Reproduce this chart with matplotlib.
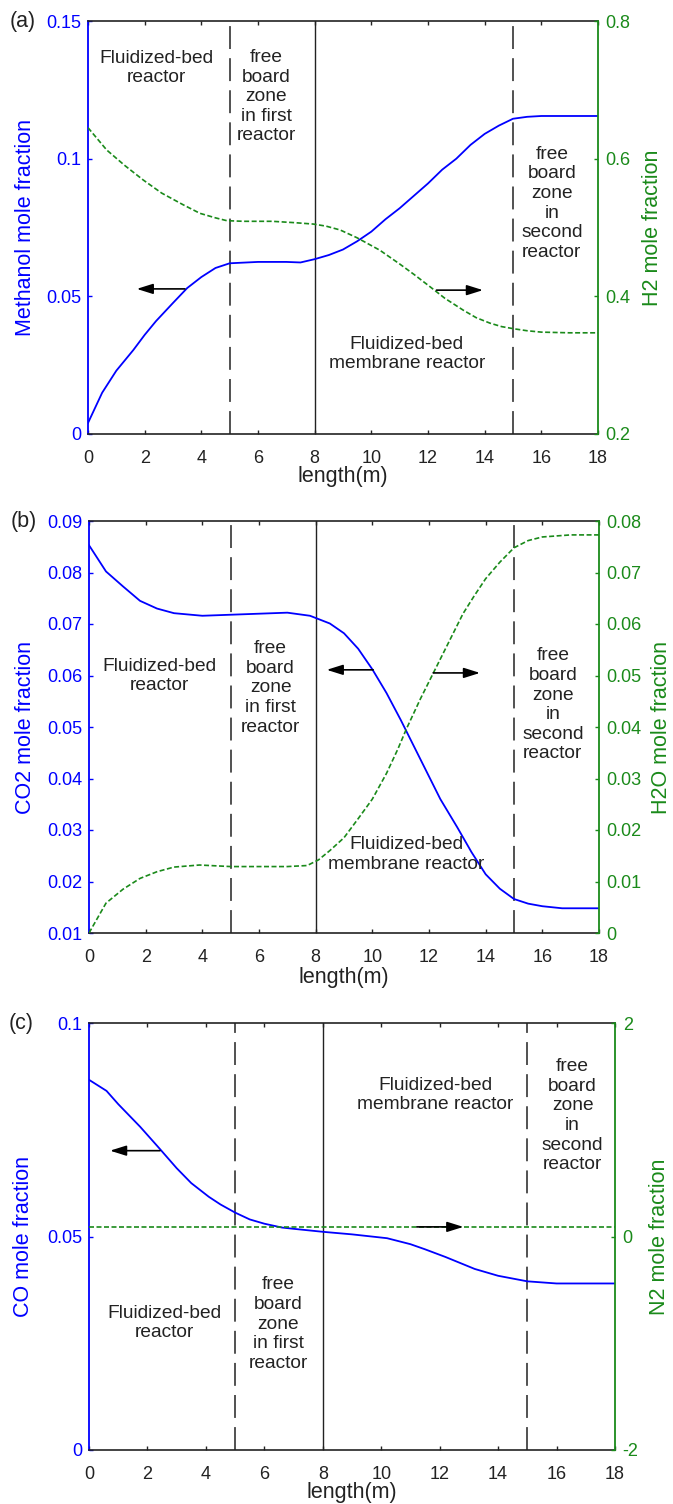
import numpy as np
import matplotlib
matplotlib.use('Agg')
import matplotlib.pyplot as plt

plt.rcParams['font.family'] = ['Liberation Sans', 'DejaVu Sans']
plt.rcParams['font.size'] = 13

# ---- panel (a): methanol / H2 ----
x_meoh = [0, 0.5, 1, 1.6, 2, 2.4, 3, 3.5, 4, 4.5, 5, 6, 7, 7.5, 8, 8.5, 9, 9.5,
          10, 10.5, 11, 11.5, 12, 12.5, 13, 13.5, 14, 14.5, 15, 15.5, 16, 17, 18]
meoh = [0.004, 0.015, 0.023, 0.0305, 0.036, 0.041, 0.0476, 0.0530, 0.0570, 0.0603,
        0.062, 0.0625, 0.0625, 0.0623, 0.0635, 0.065, 0.067, 0.070, 0.0735, 0.078,
        0.082, 0.0865, 0.091, 0.096, 0.100, 0.105, 0.109, 0.112, 0.1145, 0.1152,
        0.1155, 0.1155, 0.1155]
x_h2 = [0, 0.66, 1.3, 1.95, 2.6, 3.36, 3.95, 4.5, 4.9, 5.5, 6.5, 7.3, 7.95, 8.4,
        8.9, 9.5, 10.3, 11, 11.5, 12.07, 12.6, 13.24, 13.7, 14.19, 14.6, 15.07,
        15.5, 16, 17, 18]
h2 = [0.645, 0.6126, 0.59, 0.569, 0.55, 0.533, 0.5206, 0.514, 0.5099, 0.509, 0.509,
      0.507, 0.505, 0.502, 0.4964, 0.485, 0.467, 0.447, 0.432, 0.414, 0.397, 0.380,
      0.369, 0.361, 0.356, 0.3526, 0.350, 0.348, 0.347, 0.347]

# ---- panel (b): CO2 / H2O ----
x_co2 = [0, 0.6, 1.2, 1.8, 2.4, 3, 4, 5, 6, 7, 7.8, 8.5, 9, 9.5, 10, 10.5, 11,
         11.5, 12, 12.4, 13, 13.5, 14, 14.5, 15, 15.5, 16, 16.7, 17, 18]
co2 = [0.0853, 0.0802, 0.0773, 0.0745, 0.0730, 0.0721, 0.0716, 0.0718, 0.0720,
       0.0722, 0.0716, 0.0701, 0.0682, 0.0652, 0.0612, 0.0566, 0.0514, 0.0459,
       0.0404, 0.0360, 0.0305, 0.0257, 0.0214, 0.0186, 0.0166, 0.0157, 0.0152,
       0.0148, 0.0148, 0.0148]
x_h2o = [0, 0.6, 1.2, 1.8, 2.4, 3, 3.9, 5, 6, 7, 7.7, 8.1, 8.5, 9, 9.5, 10, 10.5,
         10.9, 11.2, 11.7, 12.2, 12.7, 13.2, 13.6, 14, 14.5, 15, 15.5, 16, 17, 18]
h2o = [0.0, 0.0058, 0.0085, 0.0106, 0.0119, 0.0128, 0.0132, 0.0129, 0.0129, 0.0129,
       0.0131, 0.0142, 0.016, 0.0185, 0.0222, 0.026, 0.031, 0.0357, 0.0396, 0.0455,
       0.051, 0.0565, 0.062, 0.0655, 0.0688, 0.072, 0.0748, 0.0762, 0.0769, 0.0773,
       0.0773]

# ---- panel (c): CO / N2 ----
x_co = [0, 0.6, 1, 1.75, 2.4, 3, 3.5, 4.1, 4.5, 5, 5.5, 6, 6.6, 7, 8, 9, 10.2, 11,
        11.5, 12.2, 12.7, 13.2, 14, 15, 16, 17, 18]
co = [0.0867, 0.0841, 0.081, 0.0757, 0.0707, 0.066, 0.0625, 0.0593, 0.0575, 0.0556,
      0.054, 0.053, 0.0521, 0.0518, 0.0511, 0.0505, 0.0496, 0.0482, 0.047, 0.0452,
      0.0438, 0.0424, 0.0408, 0.0395, 0.039, 0.039, 0.039]
x_n2 = [0, 18]
n2 = [0.09, 0.09]

xticks = [0, 2, 4, 6, 8, 10, 12, 14, 16, 18]

BLUE = '#0000ff'
GREEN = '#1a8a1a'
DARK = '#222222'
LABEL_FS = 15.5

W, H = 673, 1504
fig = plt.figure(figsize=(W / 100, H / 100), dpi=100)


def make_axes(px_left, px_right, px_top, px_bottom):
    return fig.add_axes([px_left / W, (H - px_bottom) / H,
                         (px_right - px_left) / W, (px_bottom - px_top) / H])


def setup(ax, ax2, lticks, llabels, rticks, rlabels, lname, rname,
          lx, rx, xy, letter):
    ax.set_xlim(0, 18)
    ax.set_xticks(xticks)
    ax.set_xticklabels([str(t) for t in xticks])
    ax.set_ylim(lticks[0], lticks[-1])
    ax.set_yticks(lticks)
    ax.set_yticklabels(llabels)
    ax2.set_ylim(rticks[0], rticks[-1])
    ax2.set_yticks(rticks)
    ax2.set_yticklabels(rlabels)

    ax.tick_params(axis='x', direction='in', top=True, length=3, pad=11.5,
                   colors=DARK, width=1)
    ax.tick_params(axis='y', direction='in', right=False, length=3, pad=5,
                   colors=BLUE, width=1)
    ax2.tick_params(axis='y', direction='in', left=False, length=3, pad=5.5,
                    colors=GREEN, width=1)

    for s in ['top', 'bottom']:
        ax.spines[s].set_color(DARK)
        ax.spines[s].set_linewidth(1.2)
    ax.spines['left'].set_color(BLUE)
    ax.spines['left'].set_linewidth(1.3)
    ax.spines['right'].set_visible(False)
    for s in ['top', 'bottom', 'left']:
        ax2.spines[s].set_visible(False)
    ax2.spines['right'].set_color(GREEN)
    ax2.spines['right'].set_linewidth(1.3)

    ax.set_ylabel(lname, color=BLUE, va='center', fontsize=LABEL_FS)
    ax.yaxis.set_label_coords(lx, 0.5)
    ax2.set_ylabel(rname, color=GREEN, va='center', fontsize=LABEL_FS)
    ax2.yaxis.set_label_coords(rx, 0.5)
    ax.set_xlabel('length(m)', color=DARK, va='center', fontsize=LABEL_FS)
    ax.xaxis.set_label_coords(0.5, xy)

    ax.text(-0.153, 1.0, letter, transform=ax.transAxes, ha='left', va='center',
            color=DARK, fontsize=LABEL_FS)

    for xv, style in [(5, 'dash'), (8, 'solid'), (15, 'dash')]:
        if style == 'dash':
            ax.axvline(xv, color=DARK, lw=1.1, dashes=(15, 6))
        else:
            ax.axvline(xv, color=DARK, lw=1.0)


def region_text(ax, x, y, s):
    ax.text(x, y, s, ha='center', va='center', color=DARK, linespacing=1.2,
            fontsize=13.8)


def arrow(ax, tail, head):
    ax.annotate('', xy=head, xytext=tail,
                arrowprops=dict(arrowstyle='-|>,head_length=0.7,head_width=0.22',
                                color='black', lw=1.2, mutation_scale=14,
                                shrinkA=0, shrinkB=0))


FREE1 = 'free\nboard\nzone\nin first\nreactor'
FREE2 = 'free\nboard\nzone\nin\nsecond\nreactor'
FBR = 'Fluidized-bed\nreactor'
FBMR = 'Fluidized-bed\nmembrane reactor'

# ---------- (a) ----------
ax = make_axes(88, 598, 21, 434)
ax2 = ax.twinx()
setup(ax, ax2, [0, 0.05, 0.1, 0.15], ['0', '0.05', '0.1', '0.15'],
      [0.2, 0.4, 0.6, 0.8], ['0.2', '0.4', '0.6', '0.8'],
      'Methanol mole fraction', 'H2 mole fraction', -0.1235, 1.106, -0.104, '(a)')
ax.plot(x_meoh, meoh, color=BLUE, lw=1.3)
ax2.plot(x_h2, h2, color=GREEN, lw=1.2, dashes=(3, 1.5))
region_text(ax, 2.42, 0.133, FBR)
region_text(ax, 6.3, 0.1225, FREE1)
region_text(ax, 16.37, 0.0838, FREE2)
region_text(ax, 11.25, 0.0291, FBMR)
arrow(ax, (3.42, 0.0527), (1.72, 0.0527))
arrow(ax2, (12.3, 0.409), (13.94, 0.409))

# ---------- (b) ----------
ax = make_axes(89, 599, 521, 933)
ax2 = ax.twinx()
lt = [0.01, 0.02, 0.03, 0.04, 0.05, 0.06, 0.07, 0.08, 0.09]
rt = [0, 0.01, 0.02, 0.03, 0.04, 0.05, 0.06, 0.07, 0.08]
setup(ax, ax2, lt, ['%g' % v for v in lt], rt, ['%g' % v for v in rt],
      'CO2 mole fraction', 'H2O mole fraction', -0.125, 1.1235, -0.107, '(b)')
ax.plot(x_co2, co2, color=BLUE, lw=1.3)
ax2.plot(x_h2o, h2o, color=GREEN, lw=1.2, dashes=(3, 1.5))
region_text(ax, 2.5, 0.0599, FBR)
region_text(ax, 6.41, 0.0576, FREE1)
region_text(ax, 16.37, 0.0543, FREE2)
region_text(ax, 11.2, 0.0253, FBMR)
arrow(ax, (10.03, 0.0611), (8.39, 0.0611))
arrow(ax2, (12.15, 0.0505), (13.8, 0.0505))

# ---------- (c) ----------
ax = make_axes(89, 615, 1023, 1450)
ax2 = ax.twinx()
setup(ax, ax2, [0, 0.05, 0.1], ['0', '0.05', '0.1'],
      [-2, 0, 2], ['-2', '0', '2'],
      'CO mole fraction', 'N2 mole fraction', -0.1236, 1.0837, -0.1007, '(c)')
ax.plot(x_co, co, color=BLUE, lw=1.3)
ax2.plot(x_n2, n2, color=GREEN, lw=1.2, dashes=(3, 1.5))
region_text(ax, 11.84, 0.0831, FBMR)
region_text(ax, 16.55, 0.0783, FREE2)
region_text(ax, 2.58, 0.0297, FBR)
region_text(ax, 6.48, 0.0295, FREE1)
arrow(ax, (2.43, 0.0701), (0.72, 0.0701))
arrow(ax2, (11.22, 0.09), (12.81, 0.09))

fig.savefig('out.png', dpi=100)
